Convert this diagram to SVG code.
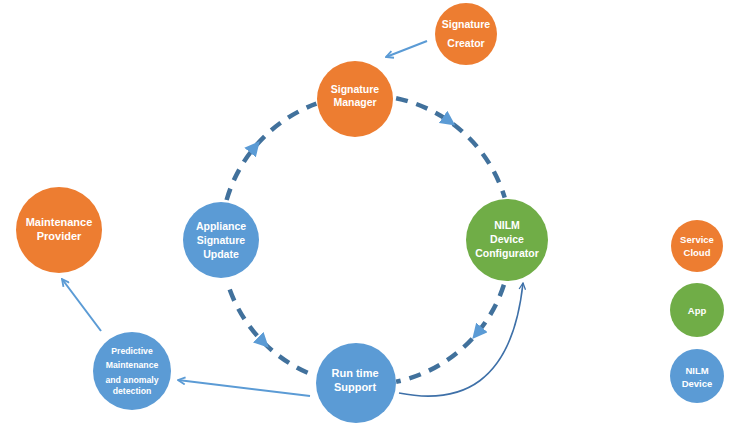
<svg xmlns="http://www.w3.org/2000/svg" width="747" height="428" viewBox="0 0 747 428">
<style>
.orange{fill:#ED7D31}
.blue{fill:#5B9BD5}
.green{fill:#70AD47}
text{font-family:"Liberation Sans",Arial,sans-serif;font-weight:bold;fill:#ffffff;text-anchor:middle}
.cycle{fill:none;stroke:#41719C;stroke-width:4.5;stroke-dasharray:12 9}
.thin{fill:none;stroke:#5B9BD5;stroke-width:2}
.curve{fill:none;stroke:#3E70A8;stroke-width:1.6}
</style>
<defs>
<marker id="tri" markerUnits="userSpaceOnUse" viewBox="0 0 14 14" refX="7" refY="7" markerWidth="15" markerHeight="15" orient="auto">
<path d="M0,0 L14,7 L0,14 Z" fill="#5B9BD5"/>
</marker>
<marker id="open" markerUnits="userSpaceOnUse" viewBox="0 0 10 10" refX="9" refY="5" markerWidth="9" markerHeight="9" orient="auto">
<path d="M1,1 L9,5 L1,9" fill="none" stroke="#5B9BD5" stroke-width="2"/>
</marker>
<marker id="openDark" markerUnits="userSpaceOnUse" viewBox="0 0 10 10" refX="9" refY="5" markerWidth="8" markerHeight="8" orient="auto">
<path d="M1,1 L9,5 L1,9" fill="none" stroke="#3E70A8" stroke-width="1.6"/>
</marker>
</defs>
<g id="connectors">
<path class="cycle" marker-mid="url(#tri)" d="M226.6,200 A145,145 0 0 1 254.9,146.8 A145,145 0 0 1 316.4,103.7"/>
<path class="cycle" marker-mid="url(#tri)" d="M396.1,98.2 A145,145 0 0 1 449.2,121.2 A145,145 0 0 1 504.7,197.6"/>
<path class="cycle" marker-mid="url(#tri)" d="M503.9,284.8 A145,145 0 0 1 477.1,333.2 A145,145 0 0 1 396.1,381.8"/>
<path class="cycle" marker-mid="url(#tri)" d="M229.7,289.6 A145,145 0 0 0 263.5,342.5 A145,145 0 0 0 314,375.4"/>
<path class="thin" marker-end="url(#open)" d="M427,41 L386,57"/>
<path class="thin" marker-end="url(#open)" d="M101,331 L62,279"/>
<path class="thin" marker-end="url(#open)" d="M310,396 L178,380"/>
<path class="curve" marker-end="url(#openDark)" d="M399,393 C460,405 512,385 523,283"/>
</g>
<g id="signature-creator">
<circle class="orange" cx="466" cy="34" r="31"/>
<text x="466" y="28" font-size="10.5">Signature</text>
<text x="466" y="47" font-size="10.5">Creator</text>
</g>
<g id="signature-manager">
<circle class="orange" cx="355" cy="99" r="38"/>
<text x="355" y="93" font-size="10.5">Signature</text>
<text x="355" y="106" font-size="10.5">Manager</text>
</g>
<g id="appliance-signature-update">
<circle class="blue" cx="221" cy="240" r="38"/>
<text x="221" y="230" font-size="10.5">Appliance</text>
<text x="221" y="244" font-size="10.5">Signature</text>
<text x="221" y="258" font-size="10.5">Update</text>
</g>
<g id="nilm-device-configurator">
<circle class="green" cx="507" cy="240" r="41"/>
<text x="507" y="229" font-size="10.5">NILM</text>
<text x="507" y="243" font-size="10.5">Device</text>
<text x="507" y="257" font-size="10.5">Configurator</text>
</g>
<g id="run-time-support">
<circle class="blue" cx="356" cy="383" r="40"/>
<text x="355" y="377" font-size="11">Run time</text>
<text x="355" y="391" font-size="11">Support</text>
</g>
<g id="maintenance-provider">
<circle class="orange" cx="59" cy="230" r="43"/>
<text x="59" y="226" font-size="11">Maintenance</text>
<text x="59" y="240" font-size="11">Provider</text>
</g>
<g id="predictive-maintenance">
<circle class="blue" cx="132" cy="371" r="39"/>
<text x="132" y="354" font-size="8.7">Predictive</text>
<text x="132" y="368" font-size="8.7">Maintenance</text>
<text x="132" y="383" font-size="8.7">and anomaly</text>
<text x="132" y="393.5" font-size="8.7">detection</text>
</g>
<g id="legend-service-cloud">
<circle class="orange" cx="697" cy="246" r="26"/>
<text x="697" y="242.5" font-size="9.5">Service</text>
<text x="697" y="255.5" font-size="9.5">Cloud</text>
</g>
<g id="legend-app">
<circle class="green" cx="697" cy="310" r="27"/>
<text x="697" y="313.5" font-size="9.5">App</text>
</g>
<g id="legend-nilm-device">
<circle class="blue" cx="697" cy="376" r="27"/>
<text x="697" y="373.5" font-size="9.5">NILM</text>
<text x="697" y="386.5" font-size="9.5">Device</text>
</g>
</svg>
